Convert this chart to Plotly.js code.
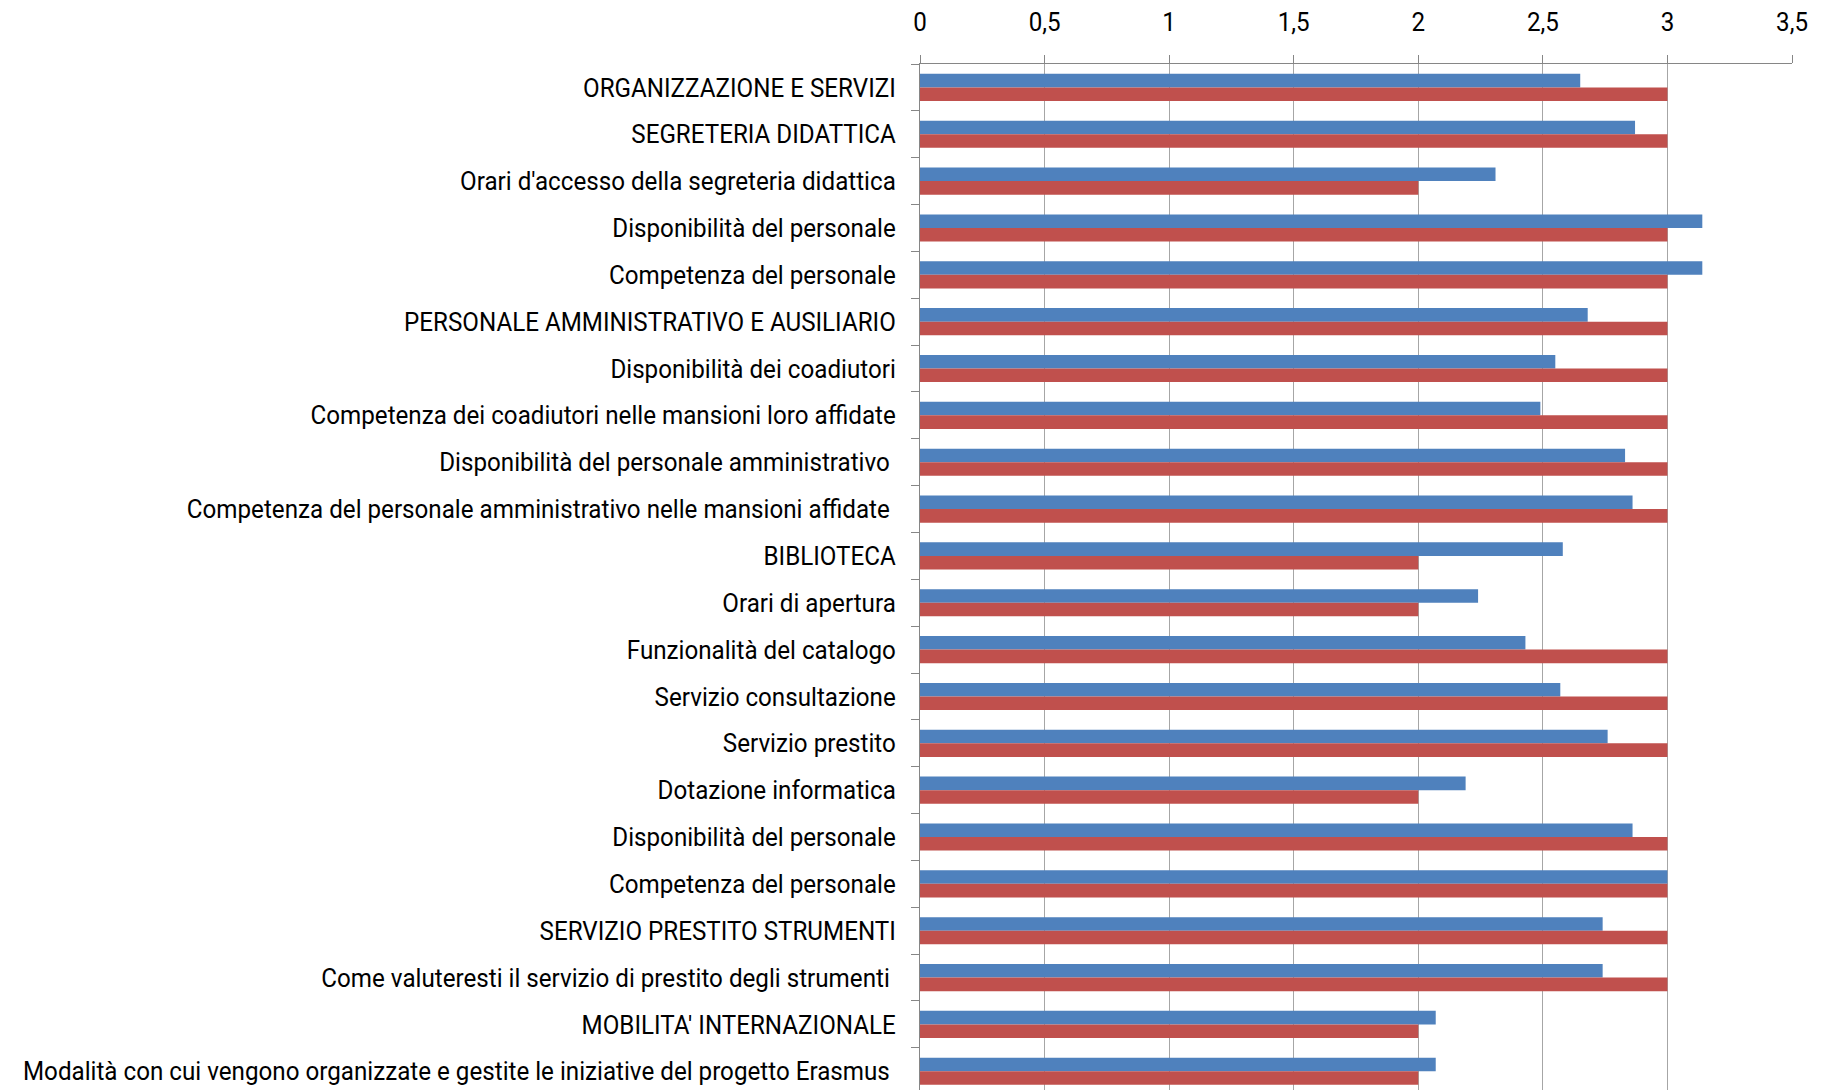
<!DOCTYPE html>
<html>
<head>
<meta charset="utf-8">
<script src="https://cdn.plot.ly/plotly-3.0.1.min.js"></script>
<style>
  html, body { margin: 0; padding: 0; background: #ffffff; }
  #chart { width: 1830px; height: 1090px; }
</style>
</head>
<body>
<div id="chart"></div>
<script>
// Survey items, top to bottom
const categories = [
  "ORGANIZZAZIONE E SERVIZI",
  "SEGRETERIA DIDATTICA",
  "Orari d'accesso della segreteria didattica",
  "Disponibilità del personale",
  "Competenza del personale",
  "PERSONALE AMMINISTRATIVO E AUSILIARIO",
  "Disponibilità dei coadiutori",
  "Competenza dei coadiutori nelle mansioni loro affidate",
  "Disponibilità del personale amministrativo\u00a0",
  "Competenza del personale amministrativo nelle mansioni affidate\u00a0",
  "BIBLIOTECA",
  "Orari di apertura",
  "Funzionalità del catalogo",
  "Servizio consultazione",
  "Servizio prestito",
  "Dotazione informatica",
  "Disponibilità del personale",
  "Competenza del personale",
  "SERVIZIO PRESTITO STRUMENTI",
  "Come valuteresti il servizio di prestito degli strumenti\u00a0",
  "MOBILITA' INTERNAZIONALE",
  "Modalità con cui vengono organizzate e gestite le iniziative del progetto Erasmus\u00a0"
];

// Mean scores (blue series)
const meanScores = [
  2.65, 2.87, 2.31, 3.14, 3.14, 2.68, 2.55, 2.49, 2.83, 2.86, 2.58,
  2.24, 2.43, 2.57, 2.76, 2.19, 2.86, 3.00, 2.74, 2.74, 2.07, 2.07
];

// Median scores (red series)
const medianScores = [
  3, 3, 2, 3, 3, 3, 3, 3, 3, 3, 2,
  2, 3, 3, 3, 2, 3, 3, 3, 3, 2, 2
];

const positions = categories.map((_, i) => i);

const font = { family: 'Roboto, "Liberation Sans", sans-serif', size: 26, color: '#000000' };
const axisGrey = '#868686';
// horizontal squeeze applied to tick labels to get a narrow face
const labelSqueeze = 0.93;

const traces = [
  {
    type: 'bar', orientation: 'h',
    x: meanScores, y: positions,
    marker: { color: '#4F81BD', line: { width: 0 } },
    hoverinfo: 'x'
  },
  {
    type: 'bar', orientation: 'h',
    x: medianScores, y: positions,
    marker: { color: '#C0504D', line: { width: 0 } },
    hoverinfo: 'x'
  }
];

const layout = {
  width: 1830, height: 1090,
  margin: { l: 920, r: 38, t: 64, b: 0, pad: 0 },
  paper_bgcolor: '#ffffff', plot_bgcolor: '#ffffff',
  showlegend: false,
  barmode: 'group',
  bargap: 0.42,
  bargroupgap: 0,
  separators: ',.',
  font: font,
  xaxis: {
    side: 'top',
    range: [0, 3.5],
    tick0: 0, dtick: 0.5,
    ticks: 'outside', ticklen: 8, tickcolor: axisGrey, tickwidth: 1,
    showline: true, linecolor: axisGrey, linewidth: 1,
    showgrid: true, gridcolor: '#a6a6a6', gridwidth: 1,
    zeroline: false,
    ticklabelstandoff: 14,
    tickfont: font,
    fixedrange: true
  },
  yaxis: {
    range: [21.4, -0.5],
    tickmode: 'array',
    tickvals: positions,
    ticktext: categories,
    ticks: '',
    showline: true, linecolor: axisGrey, linewidth: 1,
    showgrid: false, zeroline: false,
    minor: { tick0: 0.5, dtick: 1, ticks: 'outside', ticklen: 8, tickcolor: axisGrey, tickwidth: 1, showgrid: false },
    ticklabelstandoff: 18,
    tickfont: font,
    fixedrange: true
  }
};

Plotly.newPlot('chart', traces, layout, { staticPlot: true, displayModeBar: false }).then(gd => {
  gd.querySelectorAll('.xtick text, .ytick text').forEach(t => {
    const w = t.getComputedTextLength();
    t.setAttribute('textLength', (w * labelSqueeze).toFixed(1));
    t.setAttribute('lengthAdjust', 'spacingAndGlyphs');
  });
});
</script>
</body>
</html>
